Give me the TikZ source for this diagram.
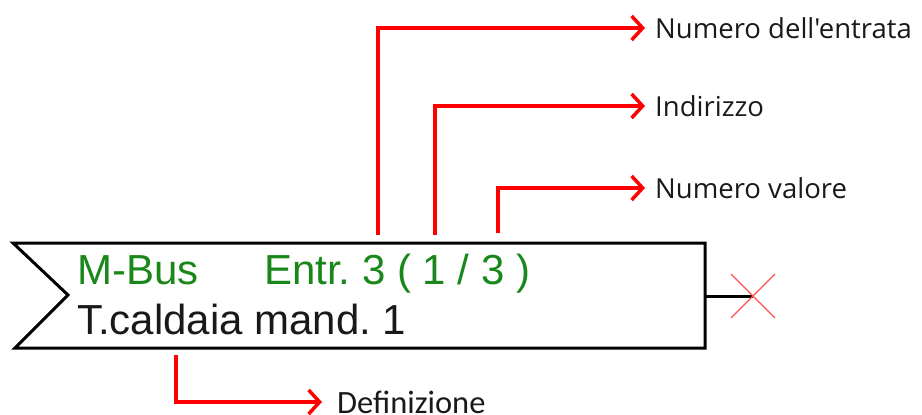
\documentclass[tikz,border=0pt]{standalone}
\usepackage{fontspec}
\setmainfont{Liberation Sans}
\newfontfamily\labfont{Open Sans}
\newfontfamily\deffont{Carlito}
\usetikzlibrary{arrows.meta}
\definecolor{mgreen}{RGB}{25,135,25}
\definecolor{mred}{RGB}{255,0,0}
\definecolor{xred}{RGB}{255,80,80}
\tikzset{
  redarrow/.style={draw=mred, line width=3.5pt, -{Straight Barb[length=11pt,width=24pt,line width=3.5pt]}},
  lab/.style={anchor=west, inner xsep=10pt, inner ysep=0pt, font=\labfont\fontsize{27.5}{30}\selectfont, text=black!90},
  boxtxt/.style={anchor=base west, inner sep=0pt, font=\fontsize{42}{44}\selectfont},
}
\begin{document}
\begin{tikzpicture}[x=1pt,y=-1pt]
\useasboundingbox (0,0) rectangle (922,415);
% box outline
\draw[line width=3pt, line join=miter] (13,243) -- (705,243) -- (705,348) -- (15,348) -- (68,295) -- cycle;
\coordinate (bxr) at (705,296);
\coordinate (xc) at (753,296);
\draw[line width=3pt] (bxr) -- (xc);
\draw[xred, line width=1.3pt] (731,274) -- (775,318) (731,318) -- (775,274);
% box texts
\node[boxtxt, text=mgreen] (mbus) at (77,284) {M-Bus};
\node[boxtxt, text=mgreen] (entr) at (264,284) {Entr.\ 3 ( 1 / 3 )};
\node[boxtxt, text=black!90] (name) at (77,334) {T.caldaia mand.\ 1};
% labels
\node[lab] (l1) at (645,28) {Numero dell'entrata};
\node[lab] (l2) at (645,106) {Indirizzo};
\node[lab] (l3) at (645,188) {Numero valore};
\node[anchor=west, inner xsep=15pt, inner ysep=0pt, font=\deffont\fontsize{32.5}{34}\selectfont, text=black!90] (l4) at (322,402) {Definizione};
% arrow starts
\coordinate (s1) at (378,235);
\coordinate (s2) at (435,235);
\coordinate (s3) at (498,233);
\coordinate (s4) at (176,355);
\draw[redarrow] (s1) |- (l1.west);
\draw[redarrow] (s2) |- (l2.west);
\draw[redarrow] (s3) |- (l3.west);
\draw[redarrow] (s4) |- (l4.west);
\end{tikzpicture}
\end{document}
